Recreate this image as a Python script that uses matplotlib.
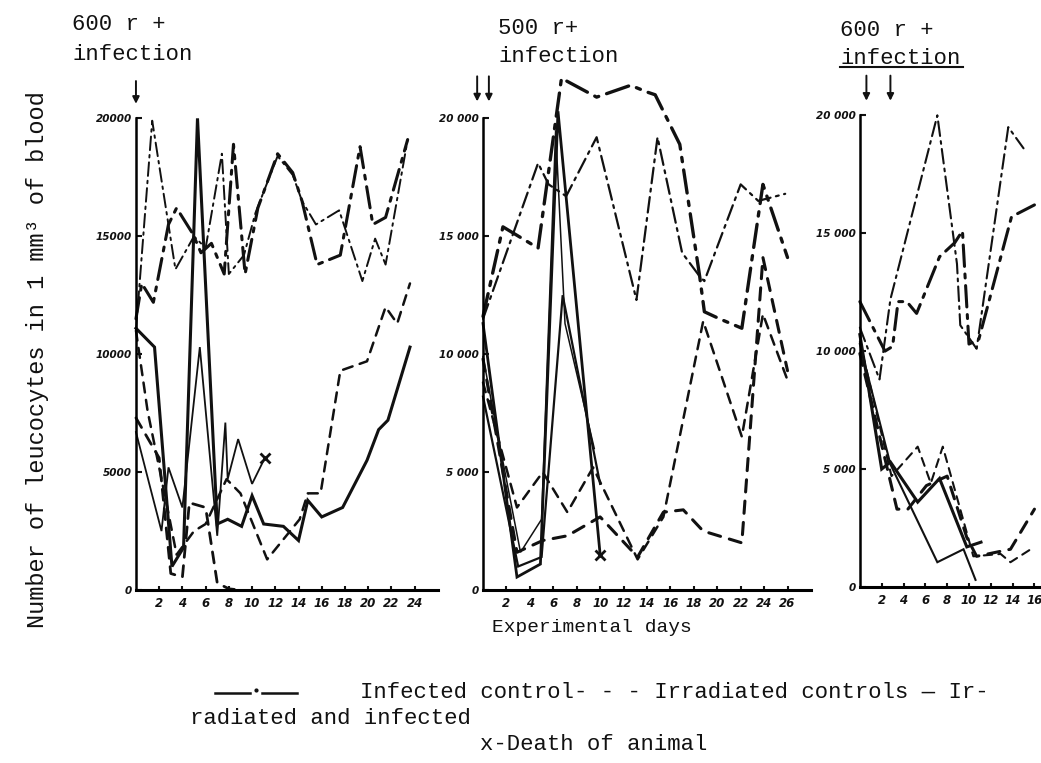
import matplotlib
matplotlib.use("Agg")
import matplotlib.pyplot as plt
from matplotlib.lines import Line2D

# ---------------- data ----------------
# Panel 1: 600 r + infection
p1_ic_thin_days = [0, 1.4, 3.4, 5.0, 6.0, 7.4, 8.0, 9.3, 10.3, 12.2, 13.5, 14.3, 15.5, 17.5, 19.5, 20.6, 21.5, 23.4]
p1_ic_thin_vals = [11000, 19900, 13600, 15000, 14500, 18500, 13400, 14200, 16000, 18400, 17600, 16500, 15500, 16100, 13100, 14900, 13800, 19100]
p1_ic_thick_days = [0, 0.5, 1.5, 2.8, 3.5, 4.9, 5.6, 6.5, 7.6, 8.4, 9.4, 10.5, 12.2, 13.5, 14.3, 15.6, 17.6, 19.3, 20.4, 21.5, 23.4]
p1_ic_thick_vals = [11500, 13000, 12200, 15500, 16200, 15100, 14300, 14700, 13400, 18900, 13400, 16200, 18500, 17700, 16500, 13800, 14200, 18800, 15500, 15800, 19100]
p1_ii_thick_days = [0, 1.6, 3.1, 4.1, 5.3, 7.0, 7.9, 9.1, 10.0, 11.0, 12.7, 14.0, 14.8, 16.0, 17.8, 19.9, 20.9, 21.7, 23.6]
p1_ii_thick_vals = [11100, 10300, 1000, 1800, 20000, 2800, 3000, 2700, 4000, 2800, 2700, 2100, 3800, 3100, 3500, 5500, 6800, 7200, 10300]
p1_ii_thin_days = [0, 1.2, 2.2, 2.8, 4.0, 5.5, 7.0, 7.7, 7.9, 8.8, 10.0, 11.1]
p1_ii_thin_vals = [6700, 4400, 2500, 5200, 3500, 10300, 2300, 7100, 4700, 6400, 4500, 5600]
p1_irr_a_days = [0, 2.0, 3.0, 4.0, 4.6, 6.0, 7.0, 8.0, 9.0]
p1_irr_a_vals = [7300, 5600, 700, 550, 3700, 3500, 300, 50, 0]
p1_irr_b_days = [0, 1.0, 2.7, 3.5, 5.0, 6.0, 7.8, 9.0, 11.3, 14.1, 14.8, 15.9, 17.6, 19.9, 21.5, 22.5, 23.6]
p1_irr_b_vals = [11000, 7600, 3500, 1500, 2500, 2800, 4700, 4100, 1300, 3000, 4100, 4100, 9300, 9700, 12000, 11300, 13000]

# Panel 2: 500 r + infection
p2_ic_thick_days = [0, 1.7, 4.7, 6.7, 9.7, 12.6, 14.1, 14.7, 16.8, 18.5, 18.9, 20.2, 22.1, 23.9, 26.0]
p2_ic_thick_vals = [11600, 15400, 14500, 21700, 20900, 21400, 21100, 21000, 18900, 13300, 11800, 11500, 11100, 17200, 14100]
p2_ic_thin_days = [0, 4.7, 5.6, 7.1, 9.7, 13.1, 14.9, 17.0, 18.5, 18.9, 22.0, 23.5, 25.8]
p2_ic_thin_vals = [11500, 18100, 17200, 16700, 19200, 12300, 19200, 14300, 13300, 13100, 17200, 16500, 16800]
p2_ii_a_days = [0, 2.9, 4.9, 6.4, 10.0]
p2_ii_a_vals = [11300, 550, 1100, 20300, 1500]
p2_ii_b_days = [0, 3.0, 5.0, 6.8, 10.0]
p2_ii_b_vals = [8200, 1000, 1400, 12500, 4500]
p2_ii_c_days = [0, 0.9, 3.2, 5.0, 6.2, 7.0, 9.5]
p2_ii_c_vals = [9900, 7500, 1600, 3000, 19500, 11300, 6000]
p2_irr_a_days = [0, 2.9, 5.1, 7.2, 9.4, 13.2, 15.4, 18.8, 22.1, 23.9, 26.0]
p2_irr_a_vals = [8800, 3500, 5000, 3300, 5200, 1300, 3100, 11400, 6500, 11700, 8900]
p2_irr_b_days = [0, 2.9, 5.1, 7.2, 10.0, 13.2, 15.4, 17.1, 18.8, 22.1, 23.9, 26.0]
p2_irr_b_vals = [9800, 1600, 2100, 2300, 3100, 1400, 3300, 3400, 2500, 2000, 14100, 9300]

# Panel 3: 600 r + infection
p3_ic_a_days = [0, 2.3, 3.0, 3.5, 4.3, 5.2, 7.3, 8.7, 9.4, 10.0, 10.9, 13.9, 16.0]
p3_ic_a_vals = [12100, 10000, 10200, 12100, 12100, 11600, 14000, 14600, 15100, 10300, 10500, 15700, 16200]
p3_ic_b_days = [0, 1.8, 2.8, 7.1, 8.9, 9.2, 10.7, 13.6, 15.0]
p3_ic_b_vals = [11000, 8800, 12200, 20000, 13700, 11100, 10100, 19500, 18600]
p3_ii_thick_days = [0, 2.0, 2.8, 5.3, 7.3, 9.8, 11.1]
p3_ii_thick_vals = [10700, 5000, 5300, 3600, 4600, 1700, 1900]
p3_ii_thin_days = [0, 2.8, 7.1, 9.5, 10.6]
p3_ii_thin_vals = [10300, 5200, 1050, 1600, 300]
p3_irr_a_days = [0, 2.9, 5.3, 6.5, 7.6, 10.4, 12.9, 13.8, 16.0]
p3_irr_a_vals = [10400, 4700, 5950, 4400, 5950, 1300, 1400, 1050, 1700]
p3_irr_b_days = [0, 3.4, 4.4, 6.1, 8.0, 9.8, 10.7, 13.8, 16.0]
p3_irr_b_vals = [9900, 3300, 3300, 4300, 4700, 2100, 1300, 1600, 3300]

panel_titles = ["600 r +\ninfection", "500 r+\ninfection", "600 r +\ninfection"]
p1_yticklabels = ["0", "5000", "10000", "15000", "20000"]
p23_yticklabels = ["0", "5 000", "10 000", "15 000", "20 000"]
yticks = [0, 5000, 10000, 15000, 20000]
p1_xticks = list(range(2, 25, 2))
p2_xticks = list(range(2, 27, 2))
p3_xticks = list(range(2, 17, 2))

# ---------------- styling ----------------
W, H = 1041, 763
fig = plt.figure(figsize=(W / 100, H / 100), dpi=100)
MONO = ["Liberation Mono", "DejaVu Sans Mono"]
K = "#111111"
DASHDOT = (0, (7, 2.5, 1.3, 2.5))
DASHED = (0, (4, 3))
TICKFONT = dict(family="DejaVu Sans", style="italic", weight="bold")


def fx(px):
    return px / W


def fy(py):
    return 1 - py / H


def make_ax(rect, xmax, xticks, ylabels):
    ax = fig.add_axes(rect)
    ax.set_xlim(0, xmax)
    ax.set_ylim(0, 22000)
    for s in ("top", "right"):
        ax.spines[s].set_visible(False)
    ax.spines["left"].set_bounds(0, 20000)
    ax.spines["left"].set_linewidth(1.8)
    ax.spines["bottom"].set_linewidth(2.2)
    ax.set_yticks(yticks)
    ax.set_yticklabels(ylabels, fontsize=7.5, **TICKFONT)
    ax.set_xticks(xticks)
    ax.set_xticklabels([str(t) for t in xticks], fontsize=8.5, **TICKFONT)
    ax.tick_params(axis="y", direction="in", length=4, width=1.5, pad=3, colors=K)
    ax.tick_params(axis="x", direction="in", length=3, width=1.5, pad=5, colors=K)
    ax.patch.set_alpha(0)
    return ax


def line(ax, d, v, style, lw, marker_end=False):
    ax.plot(d, v, color=K, linestyle=style, linewidth=lw, clip_on=False,
            solid_joinstyle="miter", dash_capstyle="round")
    if marker_end:
        ax.plot(d[-1], v[-1], marker="x", color=K, markersize=7, mew=2, clip_on=False)


def arrow(ax, x, y0=21900, y1=20600):
    ax.annotate("", xy=(x, y1), xytext=(x, y0),
                arrowprops=dict(arrowstyle="-|>", lw=1.4, color=K, mutation_scale=10),
                annotation_clip=False)


ax1 = make_ax([0.1306, 0.2267, 0.290, 0.680], 26, p1_xticks, p1_yticklabels)
ax2 = make_ax([0.464, 0.2267, 0.315, 0.680], 28, p2_xticks, p23_yticklabels)
ax3 = make_ax([0.826, 0.2307, 0.174, 0.680], 16.6, p3_xticks, p23_yticklabels)

# panel 1
line(ax1, p1_ic_thin_days, p1_ic_thin_vals, DASHDOT, 1.4)
line(ax1, p1_ic_thick_days, p1_ic_thick_vals, DASHDOT, 2.2)
line(ax1, p1_ii_thick_days, p1_ii_thick_vals, "-", 2.2)
line(ax1, p1_ii_thin_days, p1_ii_thin_vals, "-", 1.3, marker_end=True)
line(ax1, p1_irr_a_days, p1_irr_a_vals, DASHED, 2.0)
line(ax1, p1_irr_b_days, p1_irr_b_vals, DASHED, 1.8)
arrow(ax1, 0, 21700, 20500)

# panel 2
line(ax2, p2_ic_thick_days, p2_ic_thick_vals, DASHDOT, 2.4)
line(ax2, p2_ic_thin_days, p2_ic_thin_vals, DASHDOT, 1.6)
line(ax2, p2_ii_a_days, p2_ii_a_vals, "-", 2.0, marker_end=True)
line(ax2, p2_ii_b_days, p2_ii_b_vals, "-", 1.6)
line(ax2, p2_ii_c_days, p2_ii_c_vals, "-", 1.1)
line(ax2, p2_irr_a_days, p2_irr_a_vals, DASHED, 1.8)
line(ax2, p2_irr_b_days, p2_irr_b_vals, DASHED, 2.2)
arrow(ax2, -0.5)
arrow(ax2, 0.5)

# panel 3
line(ax3, p3_ic_a_days, p3_ic_a_vals, DASHDOT, 2.2)
line(ax3, p3_ic_b_days, p3_ic_b_vals, DASHDOT, 1.5)
line(ax3, p3_ii_thick_days, p3_ii_thick_vals, "-", 2.2)
line(ax3, p3_ii_thin_days, p3_ii_thin_vals, "-", 1.5)
line(ax3, p3_irr_a_days, p3_irr_a_vals, DASHED, 1.5)
line(ax3, p3_irr_b_days, p3_irr_b_vals, DASHED, 2.2)
arrow(ax3, 0.6, 21800, 20500)
arrow(ax3, 2.8, 21800, 20500)

# panel titles
title_pos = [(72, 25, 55), (498, 28, 57), (840, 30, 58)]
for (x, y1, y2), t in zip(title_pos, panel_titles):
    l1, l2 = t.split("\n")
    fig.text(fx(x), fy(y1), l1, fontsize=16, family=MONO, va="center", ha="left", color=K)
    fig.text(fx(x), fy(y2), l2, fontsize=16, family=MONO, va="center", ha="left", color=K)
# underline of the third "infection"
fig.add_artist(Line2D([fx(840), fx(963)], [fy(67), fy(67)], color=K, lw=1.5))

# axis labels
fig.text(fx(38), fy(360), "Number of leucocytes in 1 mm³ of blood", rotation=90,
         fontsize=17, family=MONO, va="center", ha="center", color=K)
fig.text(fx(592), fy(628), "Experimental days", fontsize=14, family=MONO,
         va="center", ha="center", color=K)

# legend text at bottom
fig.add_artist(Line2D([fx(215), fx(250)], [fy(693), fy(693)], color=K, lw=1.8))
fig.add_artist(Line2D([fx(262), fx(297)], [fy(693), fy(693)], color=K, lw=1.8))
fig.add_artist(Line2D([fx(256)], [fy(690)], color=K, marker="o", markersize=2))
fig.text(fx(360), fy(693), "Infected control- - - Irradiated controls \u2014 Ir-",
         fontsize=16, family=MONO, va="center", ha="left", color=K)
fig.text(fx(190), fy(719), "radiated and infected", fontsize=16, family=MONO,
         va="center", ha="left", color=K)
fig.text(fx(480), fy(745), "x-Death of animal", fontsize=16, family=MONO,
         va="center", ha="left", color=K)

fig.savefig("out.png", dpi=100, facecolor="white")
